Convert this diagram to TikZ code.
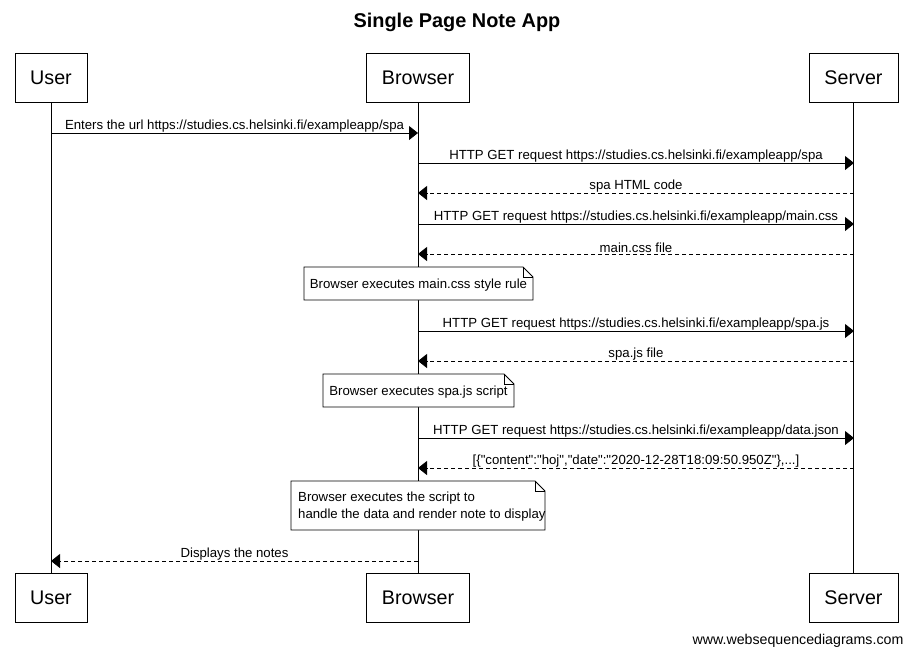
\documentclass[tikz,border=0pt]{standalone}
\usepackage{fontspec}
\setmainfont{Liberation Sans}[Ligatures=TeXOff]
\usetikzlibrary{arrows.meta}
\begin{document}
\begin{tikzpicture}[x=1pt,y=-1pt,
  actor/.style={draw,line width=1pt,minimum height=49pt,inner sep=0pt,font=\fontsize{19.7}{22}\selectfont},
  life/.style={line width=0.8pt},
  msg/.style={line width=0.8pt,-{Triangle[length=9pt,width=14pt]}},
  reply/.style={msg,dash pattern=on 4pt off 3pt},
  lbl/.style={font=\fontsize{13.2}{15}\selectfont,inner sep=0.5pt,above},
  notetxt/.style={font=\fontsize{13.2}{17}\selectfont,inner sep=0pt,align=left},
  fold/.style={line width=0.8pt}
]
\useasboundingbox (0,0) rectangle (913,657);
\node[font=\bfseries\fontsize{19.9}{22}\selectfont] (title) at (457,22) {Single Page Note App};
% actors top
\node[actor,minimum width=72pt] (ut) at (51,77.5) {User};
\node[actor,minimum width=103pt] (bt) at (418,77.5) {Browser};
\node[actor,minimum width=89pt] (st) at (853.5,77.5) {Server};
% actors bottom
\node[actor,minimum width=72pt] (ub) at (51,598) {User};
\node[actor,minimum width=103pt] (bb) at (418,598) {Browser};
\node[actor,minimum width=89pt] (sb) at (853.5,598) {Server};
% lifelines
\draw[life] (ut.south) -- (ub.north);
\draw[life] (bt.south) -- (bb.north);
\draw[life] (st.south) -- (sb.north);
% message endpoints
\foreach \n/\y in {1/133,2/163,3/193,4/224,5/254,7/331,8/361,10/438,11/468,13/561}{
  \coordinate (u\n) at (51,\y);
  \coordinate (b\n) at (418,\y);
  \coordinate (s\n) at (854,\y);
}
\draw[msg] (u1) -- node[lbl] (l1) {Enters the url https://studies.cs.helsinki.fi/exampleapp/spa} (b1);
\draw[msg] (b2) -- node[lbl] (l2) {HTTP GET request https://studies.cs.helsinki.fi/exampleapp/spa} (s2);
\draw[reply] (s3) -- node[lbl] (l3) {spa HTML code} (b3);
\draw[msg] (b4) -- node[lbl] (l4) {HTTP GET request https://studies.cs.helsinki.fi/exampleapp/main.css} (s4);
\draw[reply] (s5) -- node[lbl] (l5) {main.css file} (b5);
\draw[msg] (b7) -- node[lbl] (l7) {HTTP GET request https://studies.cs.helsinki.fi/exampleapp/spa.js} (s7);
\draw[reply] (s8) -- node[lbl] (l8) {spa.js file} (b8);
\draw[msg] (b10) -- node[lbl] (l10) {HTTP GET request https://studies.cs.helsinki.fi/exampleapp/data.json} (s10);
\draw[reply] (s11) -- node[lbl,inner sep=0pt] (l11) {[\{"content":"hoj","date":"2020-12-28T18:09:50.950Z"\},...]} (b11);
\draw[reply] (b13) -- node[lbl] (l13) {Displays the notes} (u13);
% notes
\foreach \nm/\xa/\ya/\xb/\yb in {n1/304/267/533/300, n2/323/374/514/407, n3/291/481/545/530}{
  \coordinate (\nm nw) at (\xa,\ya);
  \coordinate (\nm se) at (\xb,\yb);
  \fill[white] (\xa,\ya) -- (\xb-10,\ya) -- (\xb,\ya+10) -- (\xb,\yb) -- (\xa,\yb) -- cycle;
  \draw[fold] (\xa,\ya) -- (\xb-10,\ya) -- (\xb,\ya+10) -- (\xb,\yb) -- (\xa,\yb) -- cycle;
  \draw[fold] (\xb-10,\ya) -- (\xb-10,\ya+10) -- (\xb,\ya+10);
}
\node[notetxt] (t1) at (418.5,285) {Browser executes main.css style rule};
\node[notetxt] (t2) at (418.5,392) {Browser executes spa.js script};
\node[notetxt,anchor=west] (t3) at (298,507) {Browser executes the script to\\handle the data and render note to display};
\node[font=\fontsize{14.2}{16}\selectfont] (foot) at (798,641) {www.websequencediagrams.com};
\end{tikzpicture}
\end{document}
